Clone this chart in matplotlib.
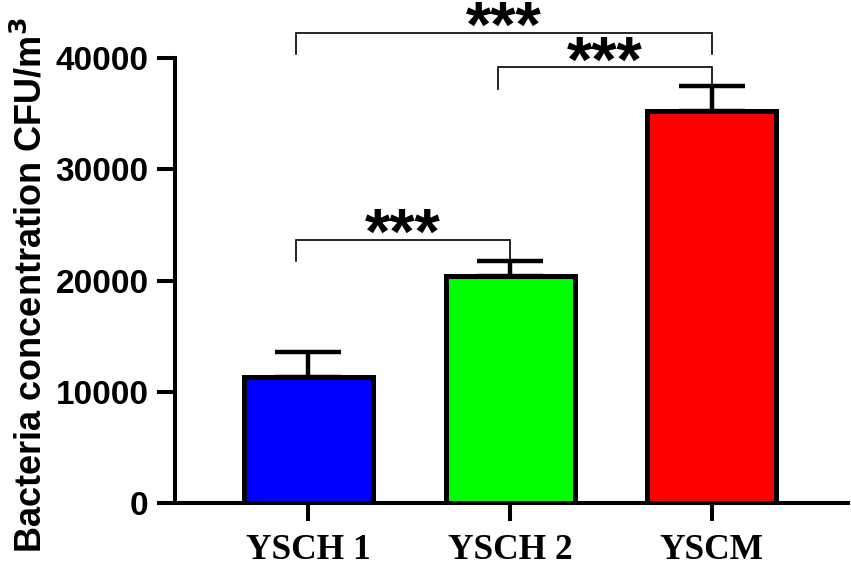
import numpy as np
import matplotlib.pyplot as plt

# --- Data ---
groups = ["YSCH 1", "YSCH 2", "YSCM"]
means = [11300, 20400, 35200]
errors = [2250, 1350, 2250]
colors = ["#0000FF", "#00FF00", "#FF0000"]
yticks = [0, 10000, 20000, 30000, 40000]

# significance brackets: (left x, right x, bar y, left leg end, right leg end, label)
brackets = [
    (-0.06, 1.0, 23650, 21750, 21750, "***"),
    (0.94, 2.0, 39150, 37250, 37450, "***"),
    (-0.06, 2.0, 42250, 40400, 40400, "***"),
]

fig = plt.figure(figsize=(8.51, 5.65), dpi=100)
ax = fig.add_axes([0.2056, 0.1097, 0.7909, 0.7876])

x = np.arange(len(groups))
ax.bar(x, means, width=0.64, color=colors, edgecolor="black", linewidth=3.6, zorder=2)
ax.errorbar(
    x, means, yerr=[np.zeros(len(errors)), errors], fmt="none",
    ecolor="black", elinewidth=3.2, capsize=24, capthick=3.2, zorder=1,
)

for x1, x2, yb, l1, l2, lab in brackets:
    ax.plot([x1, x1, x2, x2], [l1, yb, yb, l2], color="black", lw=1.2,
            clip_on=False, solid_joinstyle="miter")
    ax.text((x1 + x2) / 2, yb - 2450, lab, ha="center", va="bottom",
            fontsize=47, fontweight="bold", family="Liberation Sans",
            clip_on=False)

ax.set_xlim(-0.6625, 2.677)
ax.set_ylim(0, 40000)
ax.set_xticks(x)
ax.set_xticklabels(groups, fontsize=25.5, fontweight="bold", family="Liberation Serif")
ax.set_yticks(yticks)
ax.set_yticklabels([str(v) for v in yticks], fontsize=24, fontweight="bold",
                   family="Liberation Sans")

ax.spines["top"].set_visible(False)
ax.spines["right"].set_visible(False)
ax.spines["left"].set_linewidth(2.9)
ax.spines["bottom"].set_linewidth(2.9)
ax.tick_params(axis="both", width=2.9, length=13)
ax.tick_params(axis="y", pad=6)
ax.tick_params(axis="x", pad=9)

ax.set_ylabel("Bacteria concentration CFU/m$^\\mathbf{3}$", fontsize=26,
              fontweight="bold", family="Liberation Sans")
ax.yaxis.set_label_coords(-0.186, 0.49)

fig.savefig("out.png", dpi=100)
